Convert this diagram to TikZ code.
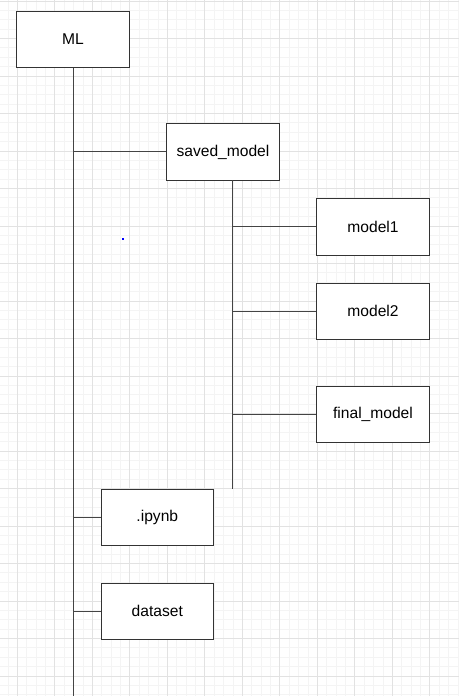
\documentclass[tikz,border=0pt]{standalone}
\usepackage{fontspec}
\setmainfont{Liberation Sans}
\begin{document}
\begin{tikzpicture}[x=1pt,y=-1pt,
  box/.style={draw=boxline, fill=white, line width=1pt, minimum width=112.5pt, minimum height=56.25pt, inner sep=0pt, font=\fontsize{15.6}{18}\selectfont},
  conn/.style={draw=connline, line width=1pt},
  minorgrid/.style={draw=gridminor, line width=0.8pt},
  majorgrid/.style={draw=gridmajor, line width=0.8pt}]
\definecolor{boxline}{HTML}{333333}
\definecolor{connline}{HTML}{444444}
\definecolor{gridminor}{HTML}{F4F4F4}
\definecolor{gridmajor}{HTML}{E2E2E2}
\useasboundingbox (0,0) rectangle (459,696);
\fill[white] (0,0) rectangle (459,696);
% grid
\foreach \i in {-2,...,49} {
  \pgfmathsetmacro\gx{17.3+9.375*\i}
  \draw[minorgrid] (\gx,0) -- (\gx,696);
}
\foreach \i in {0,...,74} {
  \pgfmathsetmacro\gy{1+9.375*\i}
  \draw[minorgrid] (0,\gy) -- (459,\gy);
}
\foreach \i in {0,...,12} {
  \pgfmathsetmacro\gx{17.3+37.5*\i}
  \draw[majorgrid] (\gx,0) -- (\gx,696);
}
\foreach \i in {0,...,18} {
  \pgfmathsetmacro\gy{1+37.5*\i}
  \draw[majorgrid] (0,\gy) -- (459,\gy);
}
% nodes
\node[box] (ml) at (73,39.3) {ML};
\node[box] (sm) at (223,151.9) {saved\_model};
\node[box] (m1) at (373,226.9) {model1};
\node[box] (m2) at (373,311.3) {model2};
\node[box] (fm) at (373,414.5) {final\_model};
\node[box] (ip) at (157.3,517.5) {.ipynb};
\node[box] (ds) at (157.3,611.3) {dataset};
\coordinate (trunkend) at (73,696);
\coordinate (smtop) at (232.7,180);
\coordinate (smend) at (232.7,489);
% connectors
\draw[conn] (ml.south) -- (trunkend);
\draw[conn] (ml.south |- sm.west) -- (sm.west);
\draw[conn] (ml.south |- ip.west) -- (ip.west);
\draw[conn] (ml.south |- ds.west) -- (ds.west);
\draw[conn] (smtop) -- (smend);
\draw[conn] (smtop |- m1.west) -- (m1.west);
\draw[conn] (smtop |- m2.west) -- (m2.west);
\draw[conn] (smtop |- fm.west) -- (fm.west);
% stray blue dot
\fill[blue] (121.7,237.7) rectangle (123.7,239.7);
\end{tikzpicture}
\end{document}
